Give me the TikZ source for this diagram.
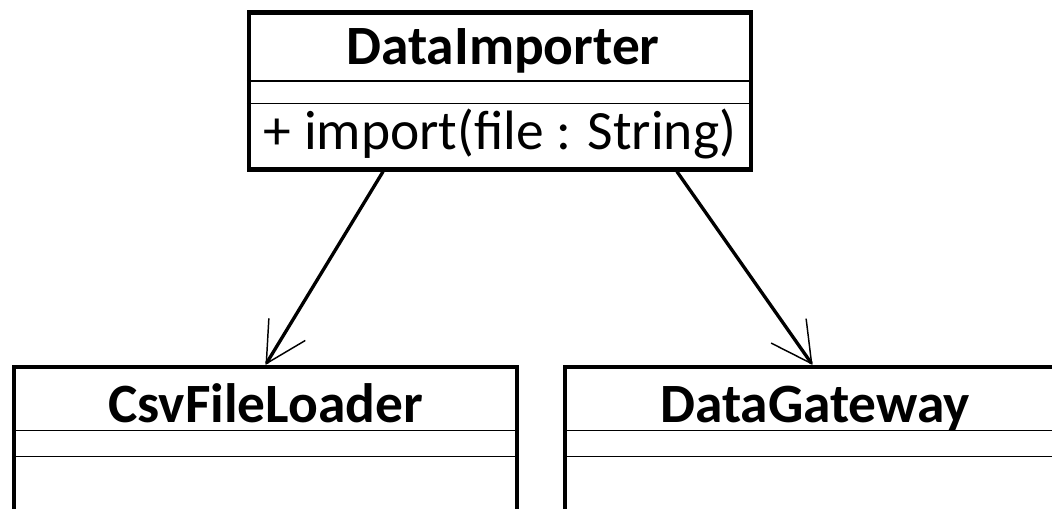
\documentclass[tikz,border=0pt]{standalone}
\usepackage{fontspec}
\setmainfont{Carlito}
\usetikzlibrary{arrows.meta}
\usetikzlibrary{positioning}

\tikzset{
  classbox/.style={draw, rectangle, line width=3.2pt, line join=miter, inner sep=0pt},
  classname/.style={font=\fontsize{41.6}{44}\selectfont\bfseries, anchor=base, inner sep=0pt},
  member/.style={font=\fontsize{41.6}{44}\selectfont, anchor=base, inner sep=0pt},
  divider/.style={line width=0.9pt, line cap=butt},
  dep/.style={->, line width=2.5pt},
}

\begin{document}
\begin{tikzpicture}[line cap=round,line join=round,>={Straight Barb[length=30pt,width=32pt,line width=1.1pt]},x=0.75pt,y=-0.75pt]
\useasboundingbox (0,0) rectangle (1052,508);
\clip (0,0) rectangle (1052,508);
% classes
\node[classbox, minimum width=376.5pt, minimum height=117.75pt] (imp) at (500,91) {};
\node[classbox, minimum width=377.25pt, minimum height=189.75pt] (loader) at (265.5,493.5) {};
\node[classbox, minimum width=377.25pt, minimum height=189.75pt] (gateway) at (816.5,493.5) {};
% compartments
\draw [divider] ([yshift=-52.9pt]imp.north west) -- ([yshift=-52.9pt]imp.north east);
\draw [divider] ([yshift=-70.1pt]imp.north west) -- ([yshift=-70.1pt]imp.north east);
\draw [divider] ([yshift=-49.3pt]loader.north west) -- ([yshift=-49.3pt]loader.north east);
\draw [divider] ([yshift=-69pt]loader.north west) -- ([yshift=-69pt]loader.north east);
\draw [divider] ([yshift=-49.3pt]gateway.north west) -- ([yshift=-49.3pt]gateway.north east);
\draw [divider] ([yshift=-69pt]gateway.north west) -- ([yshift=-69pt]gateway.north east);
% texts
\node[classname] (impName) at (503,64) {DataImporter};
\node[member] (impOp) at (500,149) {+ import(file : String)};
\node[classname] (loaderName) at (265.5,422) {CsvFileLoader};
\node[classname] (gatewayName) at (815,422) {DataGateway};
% dependencies
\draw [dep] ([xshift=-87.75pt]imp.south) -- (loader.north);
\draw [dep] ([xshift=132.75pt]imp.south) -- ([xshift=-3pt]gateway.north);
\end{tikzpicture}
\end{document}
